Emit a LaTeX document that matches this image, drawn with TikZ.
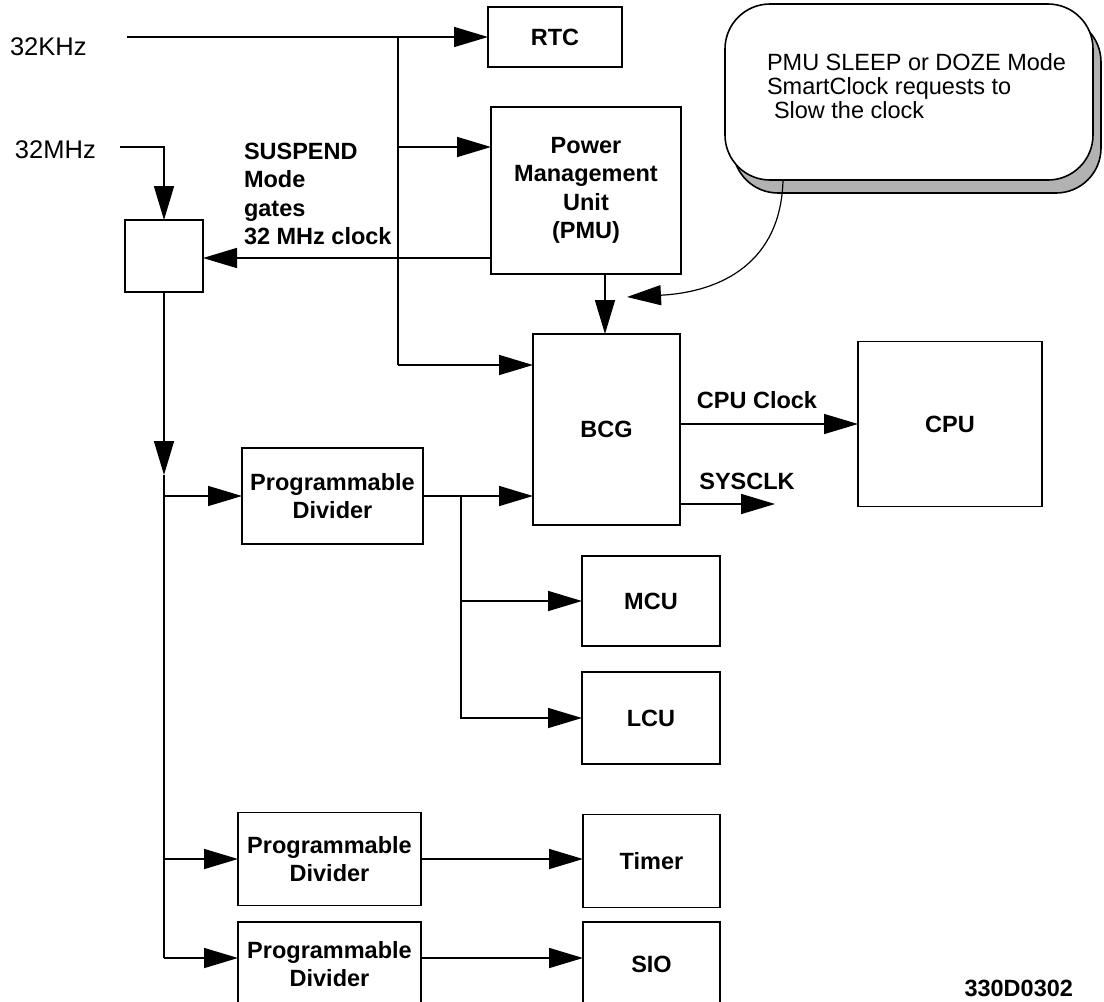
\documentclass[tikz,border=0pt]{standalone}
\usepackage{fontspec}
\setmainfont{Liberation Sans}
\usetikzlibrary{arrows.meta}
\newcommand\bflab{\fontsize{23.5}{28.5}\selectfont\bfseries}
\newcommand\rglab{\fontsize{25.5}{28}\selectfont}
\newcommand\rgcall{\fontsize{23.5}{24}\selectfont}
\begin{document}
\begin{tikzpicture}[x=1pt,y=-1pt,line width=1.6pt,
  every node/.style={inner sep=0pt,outer sep=0pt},
  box/.style={draw,fill=white,align=center,font=\bflab},
  arr/.style={-{Triangle[length=34pt,width=20pt]}},
  lab/.style={font=\bflab,align=left},
  bubble/.style={draw,rounded corners=45pt,minimum width=368pt,minimum height=176pt}]
\useasboundingbox (0,0) rectangle (1104,1002);
% boxes
\node[box,minimum width=134pt,minimum height=60pt] (rtc) at (555,37) {RTC};
\node[box,minimum width=190pt,minimum height=167pt] (pmu) at (586,190.5) {Power\\Management\\Unit\\(PMU)};
\node[box,minimum width=78pt,minimum height=72pt] (gate) at (164,256) {};
\node[box,minimum width=147pt,minimum height=191pt] (bcg) at (606.5,429.5) {BCG};
\node[box,minimum width=184pt,minimum height=165pt] (cpu) at (950,424) {CPU};
\node[box,minimum width=181pt,minimum height=96pt] (pd1) at (332.5,496) {Programmable\\Divider};
\node[box,minimum width=138pt,minimum height=90pt] (mcu) at (651,601) {MCU};
\node[box,minimum width=138pt,minimum height=92pt] (lcu) at (651,718) {LCU};
\node[box,minimum width=183pt,minimum height=93pt] (pd2) at (329.5,859) {Programmable\\Divider};
\node[box,minimum width=137pt,minimum height=93pt] (timer) at (651.5,861) {Timer};
\node[box,minimum width=183pt,minimum height=84pt] (pd3) at (329.5,964) {Programmable\\Divider};
\node[box,minimum width=137pt,minimum height=84pt] (sio) at (651.5,964) {SIO};
% callout
\node[bubble,fill=black!30] (cshadow) at (917,105) {};
\node[bubble,fill=white] (callout) at (909,92) {};
\node[font=\rgcall,align=left,anchor=west] (ctext) at (767,86) {PMU SLEEP or DOZE Mode\\SmartClock requests to\\\hspace*{7pt}Slow the clock};
% labels
\node[font=\rglab,anchor=west] (t32k) at (10,47) {32KHz};
\node[font=\rglab,anchor=west] (t32m) at (15,150) {32MHz};
\node[lab,anchor=west] (susp) at (244,194) {SUSPEND\\Mode\\gates\\32 MHz clock};
\node[font=\bflab] (cpuclk) at (757,400) {CPU Clock};
\node[font=\bflab] (sysclk) at (747,481) {SYSCLK};
\node[font=\bflab,anchor=east] (fig) at (1073,988) {330D0302};
% coordinates
\coordinate (k32) at (127,37);
\coordinate (jA) at (398,37);
\coordinate (jP) at (398,147);
\coordinate (jB) at (398,365);
\coordinate (m32) at (120,147);
\coordinate (vmid) at (164,475);
\coordinate (vbot) at (164,958);
\coordinate (jD) at (461,496);
\coordinate (sysend) at (775,504);
\coordinate (cs) at (783,180);
\coordinate (ct) at (627,297);
% connectors
\draw[arr] (k32) -- (rtc.west |- k32);
\draw (jA) -- (jB);
\draw[arr] (jP) -- (pmu.west |- jP);
\draw[arr] (jB) -- (bcg.west |- jB);
\draw[arr] (pmu.west |- 0,258) -- (gate.east |- 0,258);
\draw[arr] (m32) -| (gate.north);
\draw[arr] (gate.south) -- (vmid);
\draw (vmid) -- (vbot);
\draw[arr] (vbot |- pd1.west) -- (pd1.west);
\draw[arr] (vbot |- pd2.west) -- (pd2.west);
\draw[arr] (vbot) -- (pd3.west |- vbot);
\draw[arr] (pd1.east) -- (bcg.west |- pd1.east);
\draw[arr] (jD) |- (lcu.west);
\draw[arr] (jD |- mcu.west) -- (mcu.west);
\draw[arr] (pd2.east) -- (timer.west |- pd2.east);
\draw[arr] (pd3.east |- vbot) -- (sio.west |- vbot);
\draw[arr] (bcg.east |- cpu.west) -- (cpu.west);
\draw[arr] (bcg.east |- sysend) -- (sysend);
\draw[arr] ([xshift=19pt]pmu.south) -- ([xshift=19pt]pmu.south |- bcg.north);
\draw[arr,line width=1.2pt] (cs) .. controls (781,262) and (722,292) .. (ct);
\end{tikzpicture}
\end{document}
